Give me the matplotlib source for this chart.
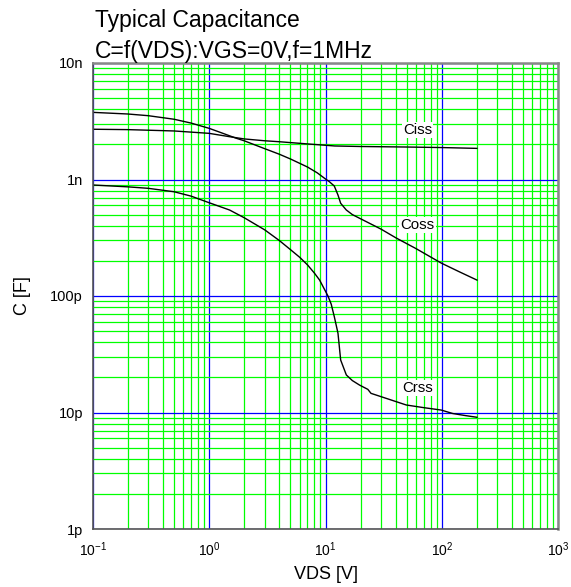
import numpy as np
import matplotlib
matplotlib.use("Agg")
import matplotlib.pyplot as plt
from matplotlib.ticker import LogLocator, FixedLocator, FixedFormatter, NullFormatter

plt.rcParams['font.family'] = ['Liberation Sans', 'DejaVu Sans']
plt.rcParams['mathtext.fontset'] = 'custom'
plt.rcParams['mathtext.rm'] = 'Liberation Sans'
plt.rcParams['mathtext.it'] = 'Liberation Sans'

# data (VDS in V, C in F)
ciss_v = [0.1, 0.2, 0.5, 1, 1.5, 2, 3, 4, 7, 12, 20, 50, 100, 200]
ciss_c = [2.70e-9, 2.68e-9, 2.61e-9, 2.49e-9, 2.33e-9, 2.23e-9, 2.15e-9,
          2.11e-9, 2.02e-9, 1.94e-9, 1.92e-9, 1.90e-9, 1.88e-9, 1.85e-9]

coss_v = [0.1, 0.2, 0.3, 0.5, 0.7, 1, 1.3, 1.71, 2, 3, 4, 5, 7, 8.5, 10,
          10.8, 11.9, 12.8, 13.5, 15.1, 17, 19.6, 30, 40.4, 60, 98.4, 140, 200]
coss_c = [3.77e-9, 3.65e-9, 3.53e-9, 3.29e-9, 3.05e-9, 2.75e-9, 2.50e-9,
          2.26e-9, 2.15e-9, 1.84e-9, 1.65e-9, 1.50e-9, 1.28e-9, 1.14e-9,
          1.01e-9, 0.957e-9, 0.879e-9, 0.736e-9, 0.625e-9, 0.547e-9,
          0.50e-9, 0.465e-9, 0.375e-9, 0.315e-9, 0.255e-9, 0.192e-9,
          0.162e-9, 0.137e-9]

crss_v = [0.1, 0.2, 0.3, 0.5, 0.7, 1, 1.5, 2, 3, 4, 5, 6, 7, 8, 8.9, 10.5,
          11.2, 11.9, 12.8, 13.5, 15.1, 17, 19.6, 23.1, 24.6, 35, 49.4, 70,
          98.4, 124, 160, 200]
crss_c = [0.897e-9, 0.865e-9, 0.840e-9, 0.785e-9, 0.72e-9, 0.632e-9,
          0.547e-9, 0.47e-9, 0.37e-9, 0.30e-9, 0.25e-9, 0.215e-9,
          0.185e-9, 0.158e-9, 0.137e-9, 100e-12, 85e-12, 66.5e-12, 47.9e-12,
          28.2e-12, 21e-12, 18.8e-12, 17.2e-12, 15.8e-12, 14.6e-12,
          13e-12, 11.6e-12, 11.0e-12, 10.5e-12, 9.8e-12, 9.4e-12, 9.1e-12]

curve_names = ['Ciss', 'Coss', 'Crss']
label_v = [61.7, 61.7, 61.7]
label_c = [2.66e-9, 0.407e-9, 16.2e-12]

xticks = [0.1, 1, 10, 100, 1000]
xtick_labels = [r'$10^{-1}$', r'$10^{0}$', r'$10^{1}$', r'$10^{2}$', r'$10^{3}$']
yticks = [1e-12, 1e-11, 1e-10, 1e-9, 1e-8]
ytick_labels = ['1p', '10p', '100p', '1n', '10n']

fig = plt.figure(figsize=(5.71, 5.87), dpi=100)
ax = fig.add_axes([92.7 / 571, 1 - 529 / 587, 465.6 / 571, 466 / 587])

ax.set_xscale('log')
ax.set_yscale('log')
ax.set_xlim(0.1, 1000)
ax.set_ylim(1e-12, 1e-8)

ax.xaxis.set_major_locator(FixedLocator(xticks))
ax.xaxis.set_major_formatter(FixedFormatter(xtick_labels))
ax.yaxis.set_major_locator(FixedLocator(yticks))
ax.yaxis.set_major_formatter(FixedFormatter(ytick_labels))
ax.xaxis.set_minor_locator(LogLocator(base=10, subs=range(2, 10), numticks=20))
ax.yaxis.set_minor_locator(LogLocator(base=10, subs=range(2, 10), numticks=20))
ax.xaxis.set_minor_formatter(NullFormatter())
ax.yaxis.set_minor_formatter(NullFormatter())

ax.grid(True, which='minor', color='#00ff00', lw=0.9)
ax.grid(True, which='major', color='#0000ff', lw=0.9)
ax.set_axisbelow(True)
ax.tick_params(which='both', length=0)
ax.tick_params(axis='x', pad=8, labelsize=10)
ax.tick_params(axis='y', pad=7, labelsize=10.5)

for s in ax.spines.values():
    s.set_color('#555555')
    s.set_linewidth(1.2)
for s in ['top', 'right']:
    ax.spines[s].set_color('#888888')
    ax.spines[s].set_linewidth(1.8)

ax.plot(ciss_v, ciss_c, color='black', lw=1)
ax.plot(coss_v, coss_c, color='black', lw=1)
ax.plot(crss_v, crss_c, color='black', lw=1)

for name, v, c in zip(curve_names, label_v, label_c):
    ax.text(v, c, name, fontsize=10.8, ha='center', va='center',
            bbox=dict(facecolor='white', edgecolor='none', pad=1))

ax.set_xlabel('VDS [V]', fontsize=13, labelpad=5)
ax.set_ylabel('C [F]', fontsize=13, labelpad=14)

fig.text(95 / 571, 1 - 26.7 / 587, 'Typical Capacitance', fontsize=16.5,
         va='baseline', ha='left')
fig.text(95 / 571, 1 - 58.3 / 587, 'C=f(VDS):VGS=0V,f=1MHz', fontsize=16.5,
         va='baseline', ha='left')

fig.savefig('out.png', dpi=100)
